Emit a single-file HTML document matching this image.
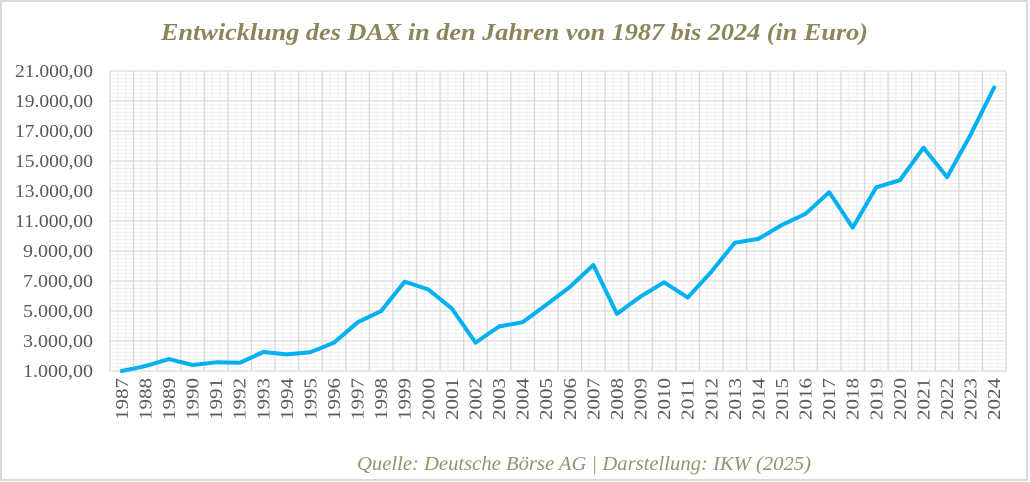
<!DOCTYPE html>
<html><head><meta charset="utf-8"><style>
html,body{margin:0;padding:0;background:#fff;width:1030px;height:482px;overflow:hidden}
</style></head><body>
<svg id="c" width="1030" height="482" xmlns="http://www.w3.org/2000/svg">
<rect x="1" y="1" width="1026" height="479" fill="#fff" stroke="#d9d9d9" stroke-width="2"/>
<text x="161" y="40" textLength="707" lengthAdjust="spacingAndGlyphs" font-family="'Liberation Serif',serif" font-style="italic" font-weight="bold" font-size="24" fill="#8c8559">Entwicklung des DAX in den Jahren von 1987 bis 2024 (in Euro)</text>
<text x="357" y="470" textLength="454" lengthAdjust="spacingAndGlyphs" font-family="'Liberation Serif',serif" font-style="italic" font-size="20" fill="#99916a">Quelle: Deutsche Börse AG | Darstellung: IKW (2025)</text>
<g id="grid"></g>
<g id="lab" font-family="'Liberation Serif',serif" font-size="18" fill="#595959"></g>
<polyline id="line" fill="none" stroke="#00b0f0" stroke-width="4" stroke-linejoin="round" stroke-linecap="round"/>
</svg>
<script>
var L=110,R=1006,T=71,B=371,n=38,w=(R-L)/n;
var v=[1000,1328,1790,1398,1578,1545,2267,2107,2254,2889,4250,5002,6958,6434,5160,2893,3965,4256,5408,6597,8067,4810,5957,6914,5898,7612,9552,9806,10743,11481,12918,10559,13249,13719,15885,13924,16752,19909];
var g='';
for(var k=0;k<=80;k++){var y=T+k*3.75;var major=(k%8==0);g+='<line x1="'+L+'" x2="'+R+'" y1="'+y+'" y2="'+y+'" stroke="'+(major?'#d9d9d9':'#efefef')+'" stroke-width="'+(major?1.3:1)+'"/>';}
for(var i=0;i<=n*3;i++){var x=L+i*w/3;var major=(i%3==0);g+='<line y1="'+T+'" y2="'+B+'" x1="'+x+'" x2="'+x+'" stroke="'+(major?'#d9d9d9':'#efefef')+'" stroke-width="'+(major?1.3:1)+'"/>';}
document.getElementById('grid').innerHTML=g;
var l='';
for(var k=0;k<=10;k++){var val=1000+2000*k;var s=(val/1000|0)+'.000,00';var y=B-k*30;var tl=(val>=10000)?78:70;l+='<text x="'+(93-tl)+'" y="'+(y+6)+'" textLength="'+tl+'" lengthAdjust="spacingAndGlyphs">'+s+'</text>';}
var pts=[];
for(var i=0;i<n;i++){var x=L+w*(i+0.5);pts.push(x.toFixed(1)+','+(B-(v[i]-1000)*0.015).toFixed(1));
l+='<text transform="translate('+(x+6)+',420) rotate(-90)" x="0" y="0" textLength="42" lengthAdjust="spacingAndGlyphs">'+(1987+i)+'</text>';}
document.getElementById('lab').innerHTML=l;
document.getElementById('line').setAttribute('points',pts.join(' '));
</script>
</body></html>
